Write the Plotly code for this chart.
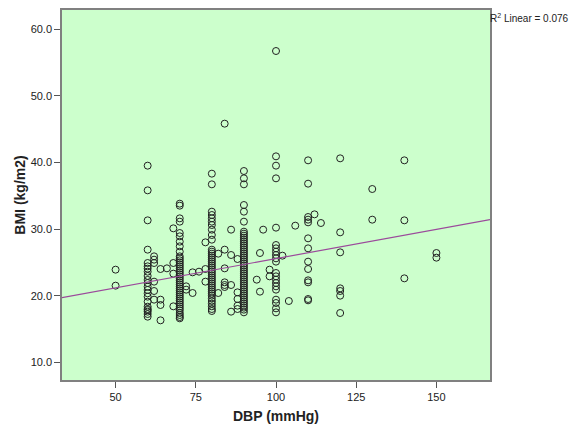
import plotly.graph_objects as go

# DBP (mmHg) and BMI (kg/m2)
dbp = (
    [50] * 2 + [60] * 22 + [62] * 6 + [64] * 4 + [66] + [68] * 4 + [70] * 41 + [72] * 2 + [74] * 2 + [76]
    + [78] * 3 + [80] * 40 + [82] * 2 + [84] * 6 + [86] * 4 + [88] * 5 + [90] * 47 + [94] + [95] * 2
    + [96] + [98] * 2 + [100] * 21 + [102] + [104] + [106] + [110] * 13 + [112] + [114] + [120] * 7
    + [130] * 2 + [140] * 3 + [150] * 2
)
bmi = (
    [23.9, 21.5]
    + [39.5, 35.8, 31.3, 26.9, 24.9, 24.4, 24.05, 23.6, 22.96, 22.36, 21.9, 21.35, 20.86, 20.36, 19.85,
       19.1, 18.35, 17.85, 17.6, 17.25, 16.85, 18.0]
    + [25.9, 25.4, 24.9, 22.1, 20.7, 19.4]
    + [24.0, 19.4, 18.6, 16.3]
    + [24.1]
    + [30.1, 24.9, 23.3, 18.4]
    + [33.8, 33.5, 31.6, 31.1, 29.4, 28.9, 28.1, 27.4, 26.6, 25.9, 25.6, 25.3, 25.0, 24.7, 24.4, 24.1,
       23.8, 23.5, 23.2, 22.9, 22.6, 22.3, 22.0, 21.7, 21.4, 21.1, 20.8, 20.5, 20.2, 19.9, 19.6, 19.3,
       19.0, 18.7, 18.4, 18.1, 17.8, 17.4, 17.1, 16.8, 16.6]
    + [21.4, 20.9]
    + [23.5, 20.4]
    + [23.6]
    + [28.0, 24.0, 22.1]
    + [38.3, 36.7, 32.6, 32.1, 31.6, 31.1, 30.6, 29.9, 29.1, 28.4, 26.9, 26.6, 26.3, 26.0, 25.7, 25.4,
       25.1, 24.8, 24.5, 24.2, 23.9, 23.6, 23.3, 23.0, 22.7, 22.4, 22.1, 21.8, 21.5, 21.2, 20.9, 20.6,
       20.3, 20.0, 19.6, 19.2, 18.8, 18.4, 18.0, 17.7]
    + [26.3, 20.4]
    + [45.8, 26.9, 24.1, 22.0, 21.6, 21.3]
    + [29.9, 26.1, 21.6, 17.6]
    + [25.5, 20.5, 19.5, 18.5, 18.0]
    + [38.7, 37.6, 36.7, 33.6, 32.6, 31.1, 29.6, 29.3, 29.0, 28.7, 28.4, 28.1, 27.8, 27.5, 27.2, 26.9,
       26.6, 26.3, 26.0, 25.7, 25.4, 25.1, 24.8, 24.5, 24.2, 23.9, 23.6, 23.3, 23.0, 22.7, 22.4, 22.1,
       21.8, 21.5, 21.2, 20.9, 20.6, 20.3, 20.0, 19.7, 19.4, 19.1, 18.8, 18.5, 18.2, 17.9, 17.5]
    + [22.4]
    + [26.4, 20.6]
    + [29.9]
    + [23.9, 22.9]
    + [56.7, 40.9, 39.5, 37.6, 30.2, 27.6, 27.1, 26.6, 26.1, 25.6, 25.1, 23.4, 22.9, 22.4, 21.9, 21.4,
       20.9, 19.4, 18.9, 18.1, 17.5]
    + [26.0]
    + [19.2]
    + [30.5]
    + [40.3, 36.8, 31.8, 31.4, 31.0, 28.6, 27.1, 25.1, 24.0, 22.3, 22.0, 19.5, 19.3]
    + [32.2]
    + [30.9]
    + [40.6, 29.5, 26.5, 21.1, 20.7, 20.0, 17.4]
    + [36.0, 31.4]
    + [40.3, 31.3, 22.6]
    + [26.4, 25.7]
)

# linear fit
fit_intercept = 16.78
fit_slope = 0.0878
r2_text = "R<sup>2</sup> Linear = 0.076"

x_range = [33.3, 166.7]
y_range = [7.35, 62.85]
x_ticks = [50, 75, 100, 125, 150]
y_ticks = [10, 20, 30, 40, 50, 60]

font = "Liberation Sans, Arial, sans-serif"

fig = go.Figure()
fig.add_trace(go.Scatter(
    x=dbp, y=bmi, mode="markers",
    marker=dict(symbol="circle-open", size=7, color="#222", line=dict(width=1, color="#222")),
    showlegend=False, hoverinfo="x+y",
))
fig.add_trace(go.Scatter(
    x=x_range, y=[fit_intercept + fit_slope * v for v in x_range], mode="lines",
    line=dict(color="#9b4a9b", width=1.2), showlegend=False, hoverinfo="skip",
))

# page body has an 8px margin, so the figure is sized to fit inside it
fig.update_layout(
    width=569, height=416,
    margin=dict(l=54, r=87, t=2, b=44),
    paper_bgcolor="white", plot_bgcolor="#ccffcc",
    font=dict(family=font, size=11, color="#222"),
    annotations=[dict(
        text=r2_text, xref="paper", yref="paper", x=1.0, y=1.0, xanchor="left", yanchor="top",
        xshift=-2, yshift=0, showarrow=False, font=dict(family=font, size=10, color="#222"),
    )],
)
fig.update_xaxes(
    range=x_range, tickvals=x_ticks, ticktext=[str(v) for v in x_ticks], automargin=False,
    showgrid=False, zeroline=False, showline=True, linecolor="#808080", linewidth=1.5, mirror=True,
    ticks="outside", ticklen=6, tickcolor="#555", tickwidth=1,
    tickfont=dict(family=font, size=11, color="#222"),
    title=dict(text="<b>DBP (mmHg)</b>", font=dict(family=font, size=14, color="#222"), standoff=11),
)
fig.update_yaxes(
    range=y_range, tickvals=y_ticks, ticktext=[f"{v:.1f}" for v in y_ticks], automargin=False,
    showgrid=False, zeroline=False, showline=True, linecolor="#808080", linewidth=1.5, mirror=True,
    ticks="outside", ticklen=6, tickcolor="#555", tickwidth=1,
    tickfont=dict(family=font, size=11, color="#222"),
    title=dict(text="<b>BMI (kg/m2)</b>", font=dict(family=font, size=14, color="#222"), standoff=2),
)

fig.write_html("out.html")
